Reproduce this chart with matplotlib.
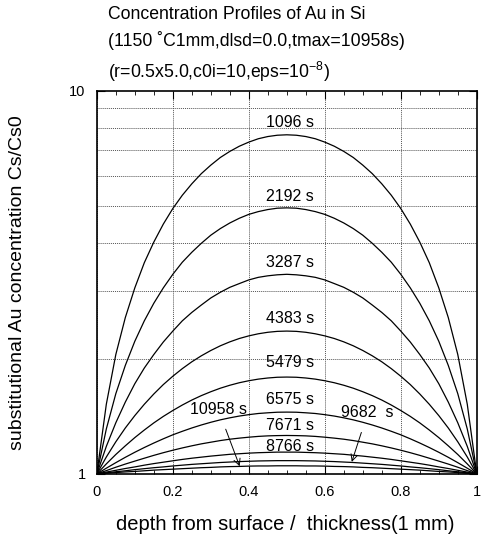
import numpy as np
import matplotlib
matplotlib.use('Agg')
import matplotlib.pyplot as plt
from matplotlib.ticker import FixedLocator, NullFormatter, FixedFormatter

plt.rcParams['font.family'] = ['Liberation Sans', 'DejaVu Sans']
plt.rcParams['mathtext.fontset'] = 'custom'
plt.rcParams['mathtext.rm'] = 'Liberation Sans'
plt.rcParams['mathtext.it'] = 'Liberation Sans'

# profiles, depth 0 .. 0.5 (they are symmetric about 0.5)
x_half = [0.0, 0.025, 0.05, 0.075, 0.1, 0.125, 0.15, 0.175, 0.2, 0.225, 0.25,
          0.275, 0.3, 0.325, 0.35, 0.375, 0.4, 0.425, 0.45, 0.475, 0.5]
c_1096 = [1.00, 1.52, 2.05, 2.56, 3.06, 3.56, 4.03, 4.49, 4.93, 5.34, 5.72,
          6.08, 6.40, 6.70, 6.95, 7.17, 7.35, 7.50, 7.60, 7.66, 7.68]
c_2192 = [1.00, 1.31, 1.62, 1.92, 2.22, 2.51, 2.79, 3.06, 3.32, 3.57, 3.79,
          4.00, 4.20, 4.37, 4.52, 4.65, 4.76, 4.84, 4.90, 4.94, 4.95]
c_3287 = [1.00, 1.18, 1.36, 1.54, 1.72, 1.89, 2.05, 2.21, 2.36, 2.51, 2.64,
          2.76, 2.88, 2.98, 3.07, 3.14, 3.21, 3.26, 3.29, 3.31, 3.32]
c_4383 = [1.000, 1.107, 1.213, 1.318, 1.420, 1.520, 1.617, 1.711, 1.799, 1.883, 1.962,
          2.034, 2.100, 2.160, 2.212, 2.257, 2.293, 2.322, 2.343, 2.356, 2.360]
c_5479 = [1.000, 1.062, 1.124, 1.184, 1.244, 1.302, 1.359, 1.413, 1.464, 1.513, 1.559,
          1.601, 1.639, 1.674, 1.704, 1.730, 1.751, 1.768, 1.780, 1.788, 1.790]
c_6575 = [1.000, 1.035, 1.070, 1.105, 1.139, 1.172, 1.204, 1.235, 1.265, 1.292, 1.318,
          1.342, 1.364, 1.384, 1.401, 1.416, 1.428, 1.438, 1.444, 1.449, 1.450]
c_7671 = [1.000, 1.020, 1.041, 1.061, 1.080, 1.099, 1.118, 1.136, 1.153, 1.169, 1.184,
          1.198, 1.210, 1.222, 1.232, 1.240, 1.247, 1.253, 1.257, 1.259, 1.260]
c_8766 = [1.000, 1.011, 1.022, 1.033, 1.043, 1.054, 1.064, 1.073, 1.082, 1.091, 1.099,
          1.106, 1.113, 1.119, 1.125, 1.129, 1.133, 1.136, 1.138, 1.140, 1.140]
c_9682 = [1.000, 1.0065, 1.013, 1.019, 1.026, 1.032, 1.038, 1.043, 1.049, 1.054, 1.059,
          1.063, 1.067, 1.071, 1.074, 1.077, 1.079, 1.081, 1.082, 1.083, 1.083]
c_10958 = [1.000, 1.004, 1.008, 1.012, 1.015, 1.019, 1.023, 1.026, 1.029, 1.032, 1.035,
           1.038, 1.040, 1.043, 1.045, 1.046, 1.048, 1.049, 1.049, 1.050, 1.050]

profiles = [c_1096, c_2192, c_3287, c_4383, c_5479, c_6575, c_7671, c_8766, c_9682, c_10958]

# inline labels
labels = ['1096 s', '2192 s', '3287 s', '4383 s', '5479 s', '6575 s', '7671 s', '8766 s']
label_x = [0.508, 0.508, 0.508, 0.508, 0.508, 0.508, 0.508, 0.508]
label_y = [8.25, 5.29, 3.56, 2.55, 1.95, 1.56, 1.34, 1.18]

x_ticks = [0, 0.2, 0.4, 0.6, 0.8, 1]
x_tick_labels = ['0', '0.2', '0.4', '0.6', '0.8', '1']

fig = plt.figure(figsize=(4.89, 5.41), dpi=100)
ax = fig.add_axes([0.198, 0.124, 0.777, 0.708])

xh = np.array(x_half)
x_full = np.concatenate([xh, 1 - xh[-2::-1]])
for c in profiles:
    c = np.array(c)
    c_full = np.concatenate([c, c[-2::-1]])
    ax.plot(x_full, c_full, color='black', lw=0.9)

ax.set_yscale('log')
ax.set_xlim(0, 1)
ax.set_ylim(1, 10)

ax.xaxis.set_major_locator(FixedLocator(x_ticks))
ax.xaxis.set_major_formatter(FixedFormatter(x_tick_labels))
ax.xaxis.set_minor_locator(FixedLocator(np.arange(0, 1.001, 0.05)))
ax.yaxis.set_major_locator(FixedLocator([1, 10]))
ax.yaxis.set_major_formatter(FixedFormatter(['1', '10']))
ax.yaxis.set_minor_locator(FixedLocator([2, 3, 4, 5, 6, 7, 8, 9]))
ax.yaxis.set_minor_formatter(NullFormatter())

ax.tick_params(which='both', direction='in', top=True, right=True, labelsize=10.5, color='black')
ax.tick_params(which='major', length=6, width=0.8, pad=8)
ax.tick_params(which='minor', length=3, width=0.6)
ax.tick_params(axis='y', which='minor', length=0)

ax.grid(True, which='major', axis='x', linestyle=(0, (1, 1)), color='#555555', lw=0.7)
ax.grid(True, which='minor', axis='y', linestyle=(0, (1, 1)), color='#555555', lw=0.7)

for s in ax.spines.values():
    s.set_linewidth(1.2)

for t, lx, ly in zip(labels, label_x, label_y):
    ax.text(lx, ly, t, ha='center', va='center', fontsize=11.5)

ax.annotate('10958 s', xy=(0.376, 1.047), xytext=(0.32, 1.47), ha='center', va='center',
            fontsize=11.5, arrowprops=dict(arrowstyle='->', color='black', lw=0.7,
                                           shrinkA=7, shrinkB=0))
ax.annotate('9682  s', xy=(0.671, 1.075), xytext=(0.713, 1.443), ha='center', va='center',
            fontsize=11.5, arrowprops=dict(arrowstyle='->', color='black', lw=0.7,
                                           shrinkA=7, shrinkB=0))

ax.set_xlabel('depth from surface /  thickness(1 mm)', fontsize=14.5)
ax.xaxis.set_label_coords(0.495, -0.131)
ax.xaxis.label.set_va('center')
ax.set_ylabel('substitutional Au concentration Cs/Cs0', fontsize=14)
ax.yaxis.set_label_coords(-0.208, 0.5)
ax.yaxis.label.set_va('center')

fig.text(0.221, 0.974, 'Concentration Profiles of Au in Si', fontsize=12.7, va='center', ha='left')
fig.text(0.221, 0.926, '(1150 \u02daC1mm,dlsd=0.0,tmax=10958s)', fontsize=12.7, va='center', ha='left')
fig.text(0.221, 0.867, '(r=0.5x5.0,c0i=10,eps=10$^{-8}$)', fontsize=12.7, va='center', ha='left')

fig.savefig('out.png', dpi=100)
